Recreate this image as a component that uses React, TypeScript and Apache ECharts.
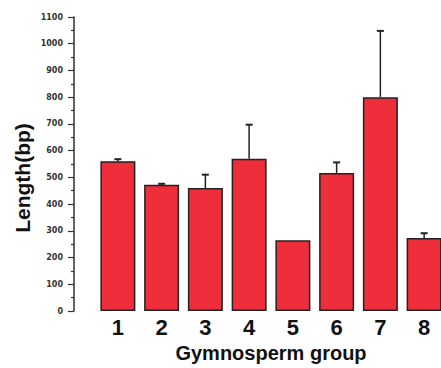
import React, { useEffect, useRef } from "react";
import * as echarts from "echarts";

const categories = ["1", "2", "3", "4", "5", "6", "7", "8"];
const lengths = [560, 472, 460, 570, 265, 516, 800, 273];
const errors = [8, 4, 50, 127, 0, 40, 248, 18];
const yTicks = [0, 100, 200, 300, 400, 500, 600, 700, 800, 900, 1000, 1100];

export default function App() {
  const ref = useRef<HTMLDivElement>(null);
  useEffect(() => {
    if (!ref.current) return;
    const chart = echarts.init(ref.current, undefined, { renderer: "svg" });
    const errData = categories.map((c, i) => [i, lengths[i], errors[i]]);
    chart.setOption({
      animation: false,
      backgroundColor: "#ffffff",
      grid: { left: 96, right: 0, top: 17, bottom: 57, containLabel: false },
      xAxis: {
        type: "category",
        data: categories,
        axisLine: { show: false },
        axisTick: { show: false },
        axisLabel: {
          fontSize: 22,
          fontWeight: "bold",
          fontFamily: "Liberation Sans, Arial, sans-serif",
          color: "#111",
          margin: 5,
        },
        name: "Gymnosperm group",
        nameLocation: "middle",
        nameGap: 32,
        nameTextStyle: {
          fontSize: 20,
          fontWeight: "bold",
          fontFamily: "Liberation Sans, Arial, sans-serif",
          color: "#111",
          padding: [0, 0, 0, 0],
        },
      },
      yAxis: {
        type: "value",
        min: 0,
        max: yTicks[yTicks.length - 1],
        interval: 100,
        offset: 22,
        splitLine: { show: false },
        axisLine: { show: true, lineStyle: { color: "#333", width: 1.5 } },
        axisTick: { show: true, inside: false, length: 6, lineStyle: { color: "#333", width: 1.2 } },
        minorTick: { show: true, splitNumber: 2, length: 3, lineStyle: { color: "#333", width: 1.2 } },
        axisLabel: {
          fontSize: 8,
          fontWeight: "bold",
          fontFamily: "DejaVu Sans, sans-serif",
          color: "#333",
          margin: 11,
          formatter: (v: number) => String(v),
        },
      },
      graphic: [
        {
          type: "text",
          x: 22,
          y: 178,
          rotation: Math.PI / 2,
          style: {
            text: "Length(bp)",
            fontSize: 21,
            fontWeight: "bold",
            fontFamily: "Liberation Sans, Arial, sans-serif",
            fill: "#111",
            align: "center",
            verticalAlign: "middle",
          },
        },
      ],
      series: [
        {
          type: "bar",
          data: lengths,
          barWidth: 35,
          itemStyle: { color: "#EE2E3A", borderColor: "#222", borderWidth: 1.5 },
        },
        {
          type: "custom",
          data: errData,
          z: 1,
          renderItem: (params: any, api: any) => {
            const i = api.value(0);
            const v = api.value(1);
            const e = api.value(2);
            if (!e) return null;
            const p0 = api.coord([i, v]);
            const p1 = api.coord([i, v + e]);
            const style = { stroke: "#222", lineWidth: 1.5 };
            return {
              type: "group",
              children: [
                { type: "line", shape: { x1: p0[0], y1: p0[1], x2: p1[0], y2: p1[1] }, style },
                { type: "line", shape: { x1: p1[0] - 3.5, y1: p1[1], x2: p1[0] + 3.5, y2: p1[1] }, style: { stroke: "#222", lineWidth: 2 } },
              ],
            };
          },
        },
      ],
    });
    return () => chart.dispose();
  }, []);
  return (
    <div style={{ position: "fixed", left: 0, top: 0, width: 441, height: 368, overflow: "hidden", background: "#fff" }}>
      <div ref={ref} style={{ width: 446, height: 368 }} />
    </div>
  );
}
